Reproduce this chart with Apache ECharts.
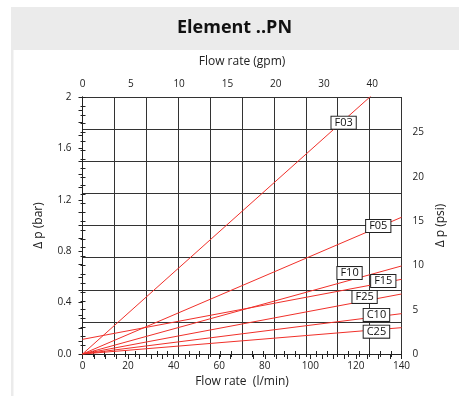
<!DOCTYPE html>
<html>
<head>
<meta charset="utf-8">
<script src="https://cdn.jsdelivr.net/npm/echarts@6/dist/echarts.min.js"></script>
<style>
html,body{margin:0;padding:0;background:#fff;}
#chart{width:459px;height:396px;}
</style>
</head>
<body>
<div id="chart"></div>
<script>
// ---- data ----
const seriesNames = ['F03', 'F05', 'F10', 'F15', 'F25', 'C10', 'C25'];
const flowLmin = [0, 140];                       // l/min at start / end of each line
const dpStart = [0, 0, 0, 0.114, 0, 0, 0];        // bar at 0 l/min
const dpEnd = [2.22, 1.064, 0.685, 0.581, 0.467, 0.314, 0.205]; // bar at 140 l/min
const labelFlow = [114.6, 129.8, 117.2, 132.0, 123.8, 129.0, 129.0];
const labelDp = [1.80, 0.996, 0.630, 0.568, 0.444, 0.304, 0.174];
const gpmTickLabels = ['0', '5', '10', '15', '20', '30', '40'];
const gpmLabelStep = 21.2;
const barMax = 2;
const psiPerBar = 14.5038;

const FONT = '"Open Sans", "Noto Sans", sans-serif';
const RED = '#f0302a';
const INK = '#222';

const series = seriesNames.map((name, i) => ({
  name: name,
  type: 'line',
  xAxisIndex: 0,
  yAxisIndex: 0,
  symbol: 'none',
  clip: true,
  silent: true,
  lineStyle: { color: RED, width: 1 },
  data: [[flowLmin[0], dpStart[i]], [flowLmin[1], dpEnd[i]]],
  markPoint: {
    symbol: 'rect',
    symbolSize: 0,
    silent: true,
    label: {
      show: true,
      position: 'inside',
      formatter: name,
      fontFamily: FONT,
      fontSize: 11,
      color: '#111',
      backgroundColor: '#fff',
      borderColor: INK,
      borderWidth: 1,
      padding: [1, 3, 0, 3],
      lineHeight: 11
    },
    data: [{ coord: [labelFlow[i], labelDp[i]] }]
  },
  z: 3
}));

const chart = echarts.init(document.getElementById('chart'), null, { renderer: 'canvas' });

const axLabel = { fontFamily: FONT, fontSize: 10, color: INK };
const axName = { fontFamily: FONT, fontSize: 12, color: INK };
const lineStyleAx = { color: INK, width: 1 };

chart.setOption({
  animation: false,
  backgroundColor: '#fff',
  title: {
    text: 'Element ..PN',
    left: 177,
    top: 19,
    padding: 0,
    textStyle: { fontFamily: FONT, fontSize: 18, fontWeight: 'bold', color: '#111' }
  },
  graphic: [
    { type: 'rect', z: -100, shape: { x: 11, y: 7, width: 448, height: 43 }, style: { fill: '#ebebeb' } },
    { type: 'rect', z: -100, shape: { x: 11, y: 50, width: 2.5, height: 346 }, style: { fill: '#ebebeb' } }
  ],
  grid: { left: 82.5, right: 57.5, top: 97, height: 257, containLabel: false },
  xAxis: [
    { // bottom l/min
      type: 'value', position: 'bottom', min: 0, max: 140, interval: 20,
      name: 'Flow rate  (l/min)', nameLocation: 'middle', nameGap: 19, nameTextStyle: axName,
      axisLine: { show: true, lineStyle: lineStyleAx },
      axisTick: { show: true, inside: false, length: 5, lineStyle: lineStyleAx },
      minorTick: { show: true, splitNumber: 4, length: 5, lineStyle: lineStyleAx },
      axisLabel: Object.assign({ margin: 7 }, axLabel),
      splitLine: { show: false }
    },
    { // top grid + outside ticks
      type: 'value', position: 'top', min: 0, max: 140, interval: 14,
      axisLine: { show: true, lineStyle: lineStyleAx },
      axisTick: { show: true, inside: false, length: 3, lineStyle: lineStyleAx },
      minorTick: { show: true, splitNumber: 3, length: 3, lineStyle: lineStyleAx },
      axisLabel: { show: false },
      splitLine: { show: true, lineStyle: { color: '#333', width: 1 } }
    },
    { // top inside ticks
      type: 'value', position: 'top', min: 0, max: 140, interval: 14,
      axisLine: { show: false },
      axisTick: { show: true, inside: true, length: 3, lineStyle: lineStyleAx },
      minorTick: { show: true, splitNumber: 3, length: 3, lineStyle: lineStyleAx },
      axisLabel: { show: false },
      splitLine: { show: false }
    },
    { // top gpm labels
      type: 'value', position: 'top', min: 0, max: 140, interval: gpmLabelStep,
      name: 'Flow rate (gpm)', nameLocation: 'middle', nameGap: 29, nameTextStyle: axName,
      axisLine: { show: false }, axisTick: { show: false }, splitLine: { show: false },
      axisLabel: Object.assign({
        margin: 8,
        showMaxLabel: false,
        formatter: function (v) {
          const k = Math.round(v / gpmLabelStep);
          if (Math.abs(v - k * gpmLabelStep) < 0.05 && k < gpmTickLabels.length) return gpmTickLabels[k];
          return '';
        }
      }, axLabel)
    }
  ],
  yAxis: [
    { // left bar
      type: 'value', position: 'left', min: 0, max: barMax, interval: 0.4,
      name: 'Δ p (bar)', nameLocation: 'middle', nameGap: 38, nameRotate: 90, nameTextStyle: axName,
      axisLine: { show: true, lineStyle: lineStyleAx },
      axisTick: { show: true, inside: false, length: 4, lineStyle: lineStyleAx },
      minorTick: { show: true, splitNumber: 4, length: 4, lineStyle: lineStyleAx },
      axisLabel: Object.assign({ margin: 11, formatter: v => (v === 2 ? '2' : v.toFixed(1)) }, axLabel),
      splitLine: { show: false }
    },
    { // horizontal grid lines
      type: 'value', position: 'left', min: 0, max: barMax, interval: 0.25,
      axisLine: { show: false }, axisTick: { show: false }, axisLabel: { show: false },
      splitLine: { show: true, lineStyle: { color: '#333', width: 1 } }
    },
    { // right psi
      type: 'value', position: 'right', min: 0, max: barMax * psiPerBar, interval: 5,
      name: 'Δ p (psi)', nameLocation: 'middle', nameGap: 33, nameRotate: 90, nameTextStyle: axName,
      axisLine: { show: true, lineStyle: lineStyleAx },
      axisTick: { show: true, inside: false, length: 3, lineStyle: lineStyleAx },
      minorTick: { show: true, splitNumber: 5, length: 3, lineStyle: lineStyleAx },
      axisLabel: Object.assign({ margin: 11, showMaxLabel: false,
        formatter: v => (Math.abs(v % 5) < 1e-6 ? String(v) : '') }, axLabel),
      splitLine: { show: false }
    },
    { // right inside ticks
      type: 'value', position: 'right', min: 0, max: barMax * psiPerBar, interval: 5,
      axisLine: { show: false },
      axisTick: { show: true, inside: true, length: 2, lineStyle: lineStyleAx },
      minorTick: { show: true, splitNumber: 5, length: 2, lineStyle: lineStyleAx },
      axisLabel: { show: false }, splitLine: { show: false }
    }
  ],
  series: series
});
</script>
</body>
</html>
